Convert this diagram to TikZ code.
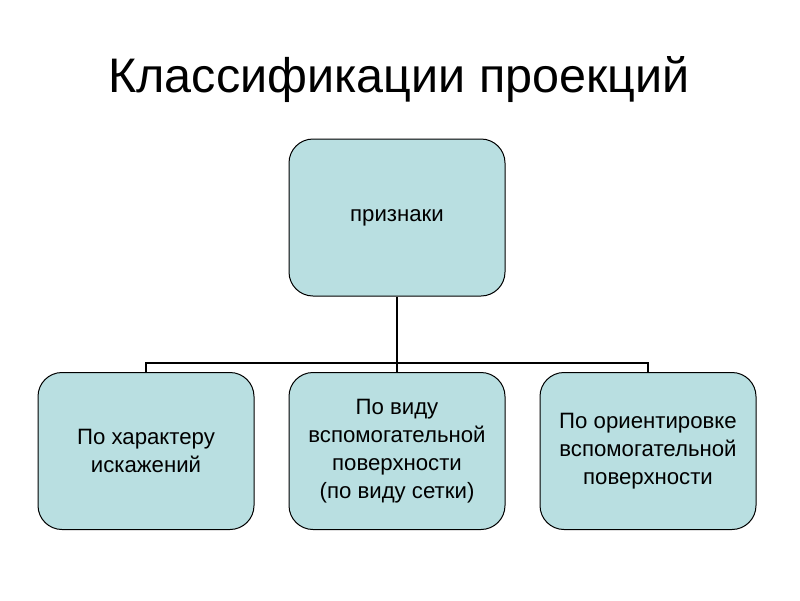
\documentclass[tikz,border=0pt]{standalone}
\usepackage{fontspec}
\setmainfont{Liberation Sans}
\definecolor{boxfill}{HTML}{B9DFE1}
\tikzset{
  klass/.style={draw=black, line width=1pt, fill=boxfill, rounded corners=24pt,
    minimum width=216pt, minimum height=157pt, align=center,
    font=\fontsize{22.2}{28}\selectfont},
  svyaz/.style={line width=1.5pt}
}
\begin{document}
\begin{tikzpicture}[x=1pt,y=-1pt]
                    \useasboundingbox (0,0) rectangle (800,600);

                    % Title
                    \node (title) at (399,80) {\fontsize{48.5}{54}\selectfont Классификации проекций};

                    % Top box
                    \node [klass] (priznaki) at (397,217.5) {признаки};

                    % Bottom boxes
                    \node [klass] (iskazh) at (146,451) {По характеру\\искажений};
                    \node [klass] (setka) at (397,451) {По виду\\вспомогательной\\поверхности\\(по виду сетки)};
                    \node [klass] (orient) at (648,451) {По ориентировке\\вспомогательной\\поверхности};

                    % Connectors
                    \coordinate (razv) at (397,363);
                    \draw [svyaz] (priznaki.south) -- (razv);
                    \draw [svyaz] (iskazh.north) |- (razv) -| (orient.north);
                    \draw [svyaz] (razv) -- (setka.north);
\end{tikzpicture}
\end{document}
